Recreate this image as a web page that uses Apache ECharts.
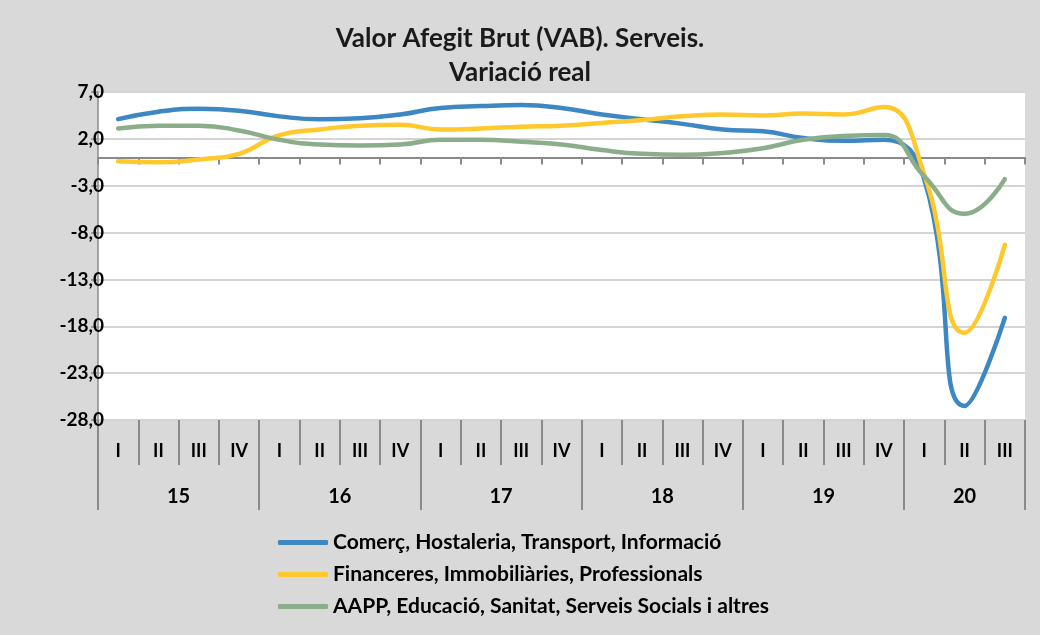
<!DOCTYPE html>
<html>
<head>
<meta charset="utf-8">
<script src="https://cdn.jsdelivr.net/npm/echarts@6/dist/echarts.min.js"></script>
<style>
html, body { margin: 0; padding: 0; background: #d9d9d9; }
#chart { width: 1040px; height: 635px; }
</style>
</head>
<body>
<div id="chart"></div>
<script>
// trimestres 2015 I - 2020 III
var quarters = ["I", "II", "III", "IV", "I", "II", "III", "IV", "I", "II", "III", "IV",
  "I", "II", "III", "IV", "I", "II", "III", "IV", "I", "II", "III"];
var years = ["15", "16", "17", "18", "19", "20"];
var quartersPerYear = [4, 4, 4, 4, 4, 3];
var yTicks = [-28, -23, -18, -13, -8, -3, 2, 7];

// variació real (%)
var comerc = [4.1, 4.9, 5.2, 5.0, 4.4, 4.1, 4.2, 4.6, 5.3, 5.5, 5.6, 5.3,
  4.6, 4.1, 3.6, 3.0, 2.8, 2.1, 1.8, 1.9, -2.3, -26.5, -17.1];
var financeres = [-0.4, -0.5, -0.2, 0.4, 2.4, 3.0, 3.4, 3.5, 3.0, 3.1, 3.3, 3.4,
  3.7, 4.0, 4.4, 4.6, 4.5, 4.7, 4.6, 5.4, -1.8, -18.7, -9.3];
var aapp = [3.1, 3.4, 3.4, 2.9, 1.9, 1.4, 1.3, 1.4, 1.9, 1.9, 1.7, 1.4,
  0.8, 0.4, 0.3, 0.5, 1.0, 1.9, 2.3, 2.4, -2.0, -6.0, -2.3];

var seriesNames = [
  "Comerç, Hostaleria, Transport, Informació",
  "Financeres, Immobiliàries, Professionals",
  "AAPP, Educació, Sanitat, Serveis Socials i altres"
];
var colors = ["#3d87c3", "#ffc82c", "#8cad8a"];

// límits i centres dels anys (en unitats de trimestre)
var yearBounds = [0];
var yearCenters = [];
quartersPerYear.forEach(function (n) {
  var start = yearBounds[yearBounds.length - 1];
  yearCenters.push(start + n / 2);
  yearBounds.push(start + n);
});

var font = "Lato";
var gray = "#8a8a8a";

var chart = echarts.init(document.getElementById("chart"));

chart.setOption({
  animation: false,
  backgroundColor: "#d9d9d9",
  title: {
    text: "Valor Afegit Brut (VAB). Serveis.\nVariació real",
    left: "center",
    top: 17,
    textStyle: {
      fontFamily: font,
      fontSize: 26,
      fontWeight: "bold",
      color: "#1a1a1a",
      lineHeight: 34
    }
  },
  legend: {
    orient: "vertical",
    left: 273,
    top: 527,
    icon: "roundRect",
    itemWidth: 50,
    itemHeight: 5,
    itemGap: 11,
    textStyle: {
      fontFamily: font,
      fontSize: 21,
      fontWeight: "bold",
      color: "#000"
    },
    data: seriesNames
  },
  grid: {
    left: 98,
    right: 15,
    top: 92,
    bottom: 215,
    show: true,
    backgroundColor: "#fff",
    borderWidth: 0,
    containLabel: false
  },
  xAxis: [
    {
      // eix al zero
      type: "category",
      data: quarters,
      position: "bottom",
      axisLine: { onZero: true, lineStyle: { color: gray, width: 2 } },
      axisTick: { show: true, length: 7, lineStyle: { color: gray, width: 2 } },
      axisLabel: { show: false }
    },
    {
      // trimestres
      type: "category",
      data: quarters,
      position: "bottom",
      axisLine: { show: false, onZero: false },
      axisTick: { show: true, length: 45, lineStyle: { color: gray, width: 2 } },
      axisLabel: {
        interval: 0,
        margin: 22,
        fontFamily: font,
        fontSize: 18,
        fontWeight: "bold",
        color: "#000"
      }
    },
    {
      // anys
      type: "value",
      min: 0,
      max: quarters.length,
      position: "bottom",
      axisLine: { show: false, onZero: false },
      splitLine: { show: false },
      axisTick: {
        show: true,
        length: 90,
        customValues: yearBounds,
        lineStyle: { color: gray, width: 2 }
      },
      axisLabel: {
        customValues: yearCenters,
        margin: 67,
        fontFamily: font,
        fontSize: 20,
        fontWeight: "bold",
        color: "#000",
        formatter: function (v) {
          var i = yearCenters.indexOf(v);
          return i >= 0 ? years[i] : "";
        }
      }
    }
  ],
  yAxis: {
    type: "value",
    min: yTicks[0],
    max: yTicks[yTicks.length - 1],
    interval: yTicks[1] - yTicks[0],
    axisLine: { show: true, lineStyle: { color: gray, width: 1.5 } },
    axisTick: { show: true, length: 7, lineStyle: { color: gray, width: 1.5 } },
    splitLine: { show: true, lineStyle: { color: "#d4d4d4", width: 2 } },
    axisLabel: {
      margin: -6,
      fontFamily: font,
      fontSize: 19,
      fontWeight: "bold",
      color: "#000",
      formatter: function (v) {
        return v.toFixed(1).replace(".", ",");
      }
    }
  },
  series: [comerc, financeres, aapp].map(function (d, i) {
    return {
      name: seriesNames[i],
      type: "line",
      xAxisIndex: 0,
      data: d,
      smooth: 0.5,
      showSymbol: false,
      color: colors[i],
      lineStyle: { width: 4.5, color: colors[i], cap: "round" }
    };
  })
});
</script>
</body>
</html>
